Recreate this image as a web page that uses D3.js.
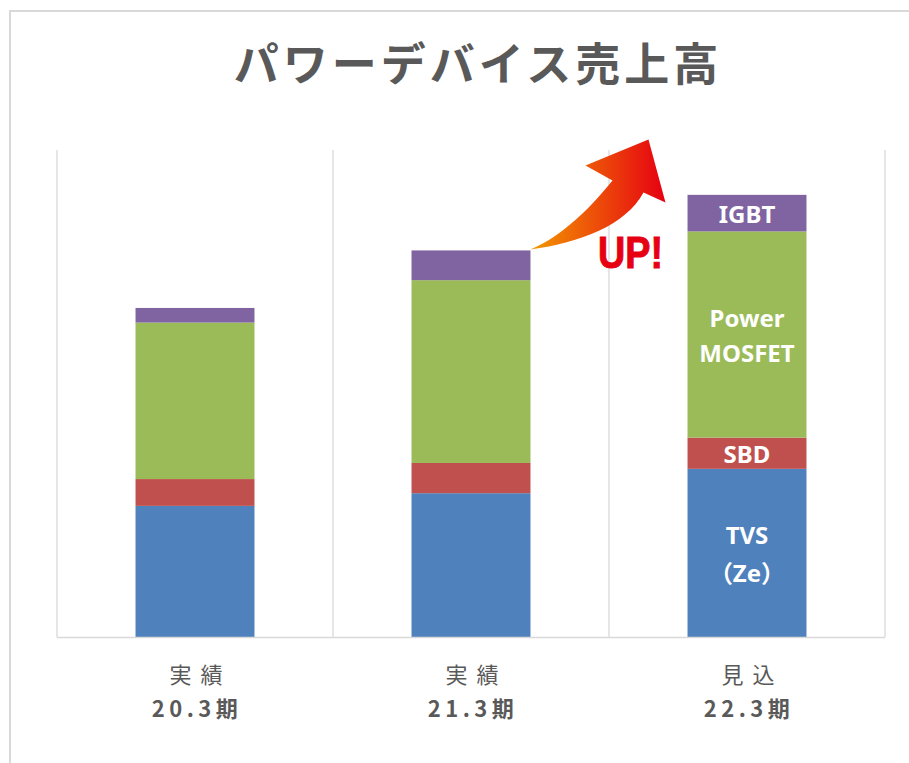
<!DOCTYPE html>
<html><head><meta charset="utf-8">
<script src="https://cdn.jsdelivr.net/npm/d3@7"></script>
<style>body{margin:0;background:#fff}svg{display:block}</style>
</head><body>
<svg id="c" width="909" height="763"></svg>
<script>
const title = "パワーデバイス売上高";
const catLine1 = ["実 績", "実 績", "見 込"];
const catLine2 = ["20.3期", "21.3期", "22.3期"];
const seriesKeys = ["tvs", "sbd", "mosfet", "igbt"];
const seriesLabels = [["TVS", "（Ze）"], ["SBD"], ["Power", "MOSFET"], ["IGBT"]];
const seriesColors = ["#4f81bd", "#c0504d", "#9bbb59", "#8064a2"];
const tvs = [27.0, 29.6, 34.6];
const sbd = [5.5, 6.2, 6.4];
const mosfet = [32.1, 37.5, 42.3];
const igbt = [3.0, 6.1, 7.5];
const yMax = 100;
const upText = "UP!";

const svg = d3.select("#c");
const W = 909, H = 763;
const plot = {left: 57, right: 885, top: 150, bottom: 637.5};

// outer frame
svg.append("rect").attr("x", 10).attr("y", 11).attr("width", W + 20).attr("height", H + 20)
  .attr("fill", "none").attr("stroke", "#d9d9d9").attr("stroke-width", 2);

const rows = catLine1.map((c, i) => ({cat: i, tvs: tvs[i], sbd: sbd[i], mosfet: mosfet[i], igbt: igbt[i]}));
const x = d3.scaleBand().domain(d3.range(catLine1.length)).range([plot.left, plot.right])
  .paddingInner(0.569).paddingOuter(0.2845);
const y = d3.scaleLinear().domain([0, yMax]).range([plot.bottom, plot.top]);

// vertical gridlines at category boundaries
const bounds = d3.range(catLine1.length + 1).map(i => plot.left + i * x.step());
svg.append("g").selectAll("line").data(bounds).join("line")
  .attr("x1", d => d).attr("x2", d => d).attr("y1", plot.top).attr("y2", plot.bottom)
  .attr("stroke", "#d9d9d9").attr("stroke-width", 1.3);

const stack = d3.stack().keys(seriesKeys)(rows);
const g = svg.append("g");
stack.forEach((s, si) => {
  g.selectAll(null).data(s).join("rect")
    .attr("x", (d, i) => x(i)).attr("width", x.bandwidth())
    .attr("y", d => y(d[1])).attr("height", d => y(d[0]) - y(d[1]))
    .attr("fill", seriesColors[si]);
});

// baseline
svg.append("line").attr("x1", plot.left).attr("x2", plot.right).attr("y1", plot.bottom).attr("y2", plot.bottom)
  .attr("stroke", "#d9d9d9").attr("stroke-width", 1.5);

// segment labels on last bar
const last = catLine1.length - 1;
const cx = x(last) + x.bandwidth() / 2;
stack.forEach((s, si) => {
  const d = s[last];
  const mid = (y(d[0]) + y(d[1])) / 2;
  const lines = seriesLabels[si];
  const lh = si === 0 ? 38 : 35;
  lines.forEach((t, li) => {
    svg.append("text").attr("x", cx).attr("y", mid + (li - (lines.length - 1) / 2) * lh)
      .attr("text-anchor", "middle").attr("dominant-baseline", "central")
      .attr("font-family", "'Noto Sans', 'Noto Sans CJK JP', sans-serif").attr("font-weight", "bold")
      .attr("font-size", 24).attr("fill", "#fff").text(t);
  });
});

// title
svg.append("text").attr("x", 478).attr("y", 81).attr("text-anchor", "middle")
  .attr("font-family", "'Noto Sans CJK JP', sans-serif").attr("font-weight", "bold")
  .attr("font-size", 45).attr("letter-spacing", 4).attr("fill", "#595959").text(title);

// category labels
catLine1.forEach((c, i) => {
  const xc = x(i) + x.bandwidth() / 2;
  svg.append("text").attr("x", xc + 2).attr("y", 683).attr("text-anchor", "middle")
    .attr("font-family", "'Noto Sans CJK JP', sans-serif").attr("font-size", 22)
    .attr("letter-spacing", 2).attr("fill", "#595959").text(c);
  svg.append("text").attr("x", xc + 2).attr("y", 717).attr("text-anchor", "middle")
    .attr("font-family", "'Noto Sans CJK JP', sans-serif").attr("font-weight", "bold").attr("font-size", 22)
    .attr("letter-spacing", 4.5).attr("fill", "#595959").text(catLine2[i]);
});

// arrow from top of bar 2
const defs = svg.append("defs");
const grad = defs.append("linearGradient").attr("id", "ag").attr("x1", "0%").attr("x2", "100%").attr("y1", "0%").attr("y2", "0%");
grad.append("stop").attr("offset", "0%").attr("stop-color", "#f39800");
grad.append("stop").attr("offset", "100%").attr("stop-color", "#e60012");
const t0x = x(1) + x.bandwidth(), t0y = y(tvs[1] + sbd[1] + mosfet[1] + igbt[1]);
const P = (dx, dy) => [t0x + dx, t0y + dy];
const pts = {
  tail: P(0, -1), rn: P(113, -58), rb: P(135, -48), tip: P(118, -111), lb: P(55, -85), ln: P(82, -70)
};
const p = d3.path();
p.moveTo(...pts.tail);
p.bezierCurveTo(t0x + 50, t0y - 8, t0x + 95, t0y - 25, ...pts.rn);
p.lineTo(...pts.rb);
p.lineTo(...pts.tip);
p.lineTo(...pts.lb);
p.lineTo(...pts.ln);
p.bezierCurveTo(t0x + 62, t0y - 45, t0x + 32, t0y - 14, ...pts.tail);
p.closePath();
svg.append("path").attr("d", p.toString()).attr("fill", "url(#ag)");

svg.append("text").attr("x", 598).attr("y", 268)
  .attr("font-family", "'Liberation Sans', Arial, sans-serif").attr("font-weight", "bold")
  .attr("font-size", 44).attr("fill", "#e60012").attr("stroke", "#e60012").attr("stroke-width", 1)
  .attr("textLength", 65).attr("lengthAdjust", "spacingAndGlyphs").text(upText);
</script>
</body></html>
